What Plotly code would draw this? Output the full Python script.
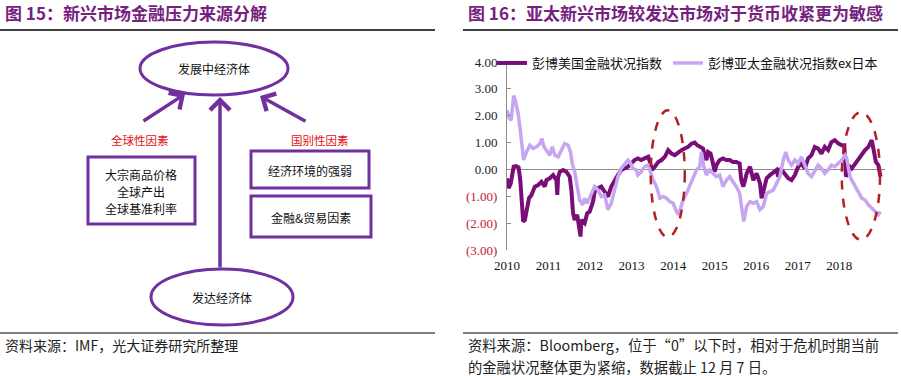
import plotly.graph_objects as go

W, H = 901, 376

# ---------------- data (right chart) ----------------
us_x = [2010.00, 2010.04, 2010.09, 2010.13, 2010.16, 2010.22, 2010.28, 2010.32, 2010.35, 2010.39,
        2010.43, 2010.47, 2010.53, 2010.59, 2010.67, 2010.75, 2010.83, 2010.91, 2010.95, 2011.03,
        2011.11, 2011.19, 2011.21, 2011.23, 2011.27, 2011.35, 2011.43, 2011.51, 2011.55, 2011.59,
        2011.63, 2011.69, 2011.75, 2011.77, 2011.79, 2011.87, 2011.93, 2011.99, 2012.07, 2012.11,
        2012.19, 2012.27, 2012.35, 2012.43, 2012.51, 2012.59, 2012.67, 2012.75, 2012.83, 2012.91,
        2012.99, 2013.07, 2013.15, 2013.23, 2013.31, 2013.40, 2013.44, 2013.49, 2013.56, 2013.64,
        2013.72, 2013.80, 2013.88, 2013.96, 2014.04, 2014.12, 2014.20, 2014.28, 2014.36, 2014.44,
        2014.52, 2014.58, 2014.64, 2014.72, 2014.76, 2014.80, 2014.84, 2014.90, 2014.96, 2015.00,
        2015.04, 2015.12, 2015.20, 2015.28, 2015.36, 2015.44, 2015.52, 2015.60, 2015.64, 2015.69,
        2015.73, 2015.77, 2015.85, 2015.89, 2015.93, 2016.01, 2016.09, 2016.13, 2016.17, 2016.25,
        2016.33, 2016.41, 2016.49, 2016.53, 2016.57, 2016.65, 2016.73, 2016.77, 2016.85, 2016.93,
        2017.01, 2017.09, 2017.17, 2017.25, 2017.33, 2017.41, 2017.49, 2017.57, 2017.65, 2017.73,
        2017.81, 2017.89, 2017.98, 2018.06, 2018.12, 2018.16, 2018.22, 2018.26, 2018.30, 2018.38,
        2018.46, 2018.54, 2018.62, 2018.70, 2018.78, 2018.82, 2018.88, 2018.94, 2018.99]
us_fci = [-0.33, -0.70, -0.52, -0.15, 0.10, 0.12, 0.07, -0.40, -1.38, -1.94,
          -1.88, -1.50, -1.07, -0.95, -0.64, -0.58, -0.46, -0.64, -0.40, -0.33,
          -0.21, -0.40, -0.95, -0.30, -0.09, -0.02, -0.09, -0.27, -0.77, -1.63,
          -1.88, -1.69, -2.31, -2.50, -1.88, -2.00, -1.63, -1.57, -1.20, -0.83,
          -0.70, -0.64, -0.83, -1.01, -0.64, -0.40, -0.21, -0.02, 0.04, 0.10,
          0.22, 0.35, 0.41, 0.35, 0.41, 0.47, 0.28, -0.02, 0.10, 0.28,
          0.35, 0.47, 0.72, 0.59, 0.53, 0.65, 0.72, 0.78, 0.84, 0.96,
          1.00, 0.90, 0.84, 0.78, 0.53, 0.35, 0.65, 0.59, 0.22, -0.09,
          0.16, 0.35, 0.41, 0.35, 0.35, 0.28, 0.28, 0.22, -0.40, -0.64,
          -0.40, -0.15, 0.10, -0.15, -0.40, -0.15, -0.52, -1.07, -0.77, -0.33,
          -0.21, -0.09, -0.02, -0.27, 0.04, -0.09, -0.25, -0.33, -0.40, -0.21,
          0.10, 0.22, 0.04, 0.41, 0.53, 0.84, 0.78, 0.59, 0.84, 0.72,
          1.02, 1.09, 0.96, 0.90, 0.90, -0.27, -0.02, 0.10, 0.04, 0.22,
          0.35, 0.53, 0.72, 0.84, 1.09, 0.78, 0.28, 0.16, -0.27]

asia_x = [2010.00, 2010.06, 2010.10, 2010.16, 2010.20, 2010.27, 2010.32, 2010.37, 2010.40, 2010.47,
          2010.55, 2010.63, 2010.71, 2010.79, 2010.84, 2010.89, 2010.95, 2011.03, 2011.09, 2011.15,
          2011.23, 2011.31, 2011.39, 2011.47, 2011.53, 2011.57, 2011.63, 2011.69, 2011.75, 2011.82,
          2011.87, 2011.93, 2011.99, 2012.07, 2012.11, 2012.19, 2012.27, 2012.35, 2012.43, 2012.51,
          2012.59, 2012.67, 2012.75, 2012.83, 2012.91, 2012.98, 2013.03, 2013.11, 2013.15, 2013.23,
          2013.31, 2013.40, 2013.46, 2013.52, 2013.60, 2013.68, 2013.76, 2013.84, 2013.92, 2014.00,
          2014.08, 2014.12, 2014.18, 2014.24, 2014.32, 2014.40, 2014.48, 2014.56, 2014.64, 2014.68,
          2014.74, 2014.80, 2014.88, 2014.96, 2015.04, 2015.12, 2015.20, 2015.28, 2015.36, 2015.44,
          2015.52, 2015.60, 2015.67, 2015.70, 2015.77, 2015.85, 2015.93, 2016.01, 2016.09, 2016.17,
          2016.25, 2016.33, 2016.41, 2016.49, 2016.57, 2016.65, 2016.71, 2016.77, 2016.85, 2016.93,
          2017.01, 2017.09, 2017.17, 2017.25, 2017.33, 2017.41, 2017.49, 2017.57, 2017.65, 2017.73,
          2017.81, 2017.89, 2017.98, 2018.06, 2018.14, 2018.18, 2018.22, 2018.26, 2018.30, 2018.38,
          2018.46, 2018.54, 2018.62, 2018.70, 2018.78, 2018.86, 2018.94, 2018.99]
asia_fci = [2.20, 1.90, 1.83, 2.75, 2.57, 2.07, 1.46, 0.72, 0.35, 0.65,
            0.90, 0.78, 0.84, 0.96, 1.15, 0.84, 0.72, 0.53, 0.84, 0.53,
            0.47, 0.72, 0.96, 0.90, 0.65, 0.22, -0.09, -0.64, -1.14, -1.32,
            -1.07, -1.26, -1.07, -0.77, -0.64, -0.77, -1.01, -0.95, -1.50, -1.26,
            -0.77, -0.27, 0.04, 0.22, 0.35, 0.22, 0.04, -0.02, -0.21, -0.09,
            0.10, 0.16, -0.15, -0.40, -0.64, -1.07, -1.01, -1.07, -1.20, -1.26,
            -1.57, -1.69, -1.44, -1.14, -0.90, -0.60, -0.27, -0.02, 0.10, 0.65,
            0.10, -0.21, -0.02, -0.15, -0.27, -0.21, -0.64, -0.40, -0.27, -0.46,
            -0.64, -0.89, -1.50, -1.94, -1.38, -1.20, -1.26, -1.20, -1.50, -1.38,
            -0.89, -0.83, -0.77, -0.52, -0.27, 0.35, 0.65, 0.35, 0.16, 0.35,
            0.22, 0.47, 0.16, -0.15, -0.27, -0.02, 0.16, 0.04, -0.15, -0.02,
            0.16, 0.10, 0.22, 0.35, 0.53, 0.41, 0.04, -0.27, -0.40, -0.64,
            -0.89, -1.07, -1.14, -1.32, -1.44, -1.57, -1.69, -1.57]

series_names = ["彭博美国金融状况指数", "彭博亚太金融状况指数ex日本"]
year_ticks = [2010, 2011, 2012, 2013, 2014, 2015, 2016, 2017, 2018]
y_ticks = [-3, -2, -1, 0, 1, 2, 3, 4]
y_tick_labels = ["(3.00)", "(2.00)", "(1.00)", "0.00", "1.00", "2.00", "3.00", "4.00"]

# highlighted periods (dashed ellipses), in data units
highlight_x = [(2013.46, 2014.28), (2018.06, 2018.98)]
highlight_y = [(-2.52, 2.20), (-2.62, 2.13)]

# ---------------- text ----------------
title_left = "图 15：新兴市场金融压力来源分解"
title_right = "图 16：亚太新兴市场较发达市场对于货币收紧更为敏感"
source_left = "资料来源：IMF，光大证券研究所整理"
source_right_1 = "资料来源：Bloomberg，位于“0”以下时，相对于危机时期当前"
source_right_2 = "的金融状况整体更为紧缩，数据截止 12 月 7 日。"
node_top = "发展中经济体"
node_bottom = "发达经济体"
label_global = "全球性因素"
label_country = "国别性因素"
box_global = ["大宗商品价格", "全球产出", "全球基准利率"]
box_country_1 = "经济环境的强弱"
box_country_2 = "金融&贸易因素"

# ---------------- styling ----------------
CJK = "Noto Sans CJK SC"
NUM = "Liberation Serif"
TITLE_C = "#74227E"
DIAG_C = "#7030A0"
RED_TXT = "#E01010"
US_C = "#7A0E78"
ASIA_C = "#C6A6F0"
ELL_C = "#B41E24"
NEG_C = "#C0203A"


def px(x):
    return x / W


def py(y):
    return 1 - y / H


fig = go.Figure()
fig.add_trace(go.Scatter(x=us_x, y=us_fci, mode="lines", name=series_names[0],
                         line=dict(color=US_C, width=4), legend="legend"))
fig.add_trace(go.Scatter(x=asia_x, y=asia_fci, mode="lines", name=series_names[1],
                         line=dict(color=ASIA_C, width=3.5), legend="legend2"))

ticktext = [f"<span style='color:{NEG_C}'>{t}</span>" if v < 0 else t
            for v, t in zip(y_ticks, y_tick_labels)]

leg_common = dict(orientation="h", xanchor="left", yanchor="middle",
                  font=dict(family=CJK, size=13, color="#111"), bgcolor="rgba(0,0,0,0)",
                  itemwidth=30)

fig.update_layout(
    width=W, height=H,
    margin=dict(l=0, r=0, t=0, b=0, autoexpand=False),
    paper_bgcolor="white", plot_bgcolor="white",
    showlegend=True,
    legend=dict(x=px(492), y=py(63), **leg_common),
    legend2=dict(x=px(668), y=py(63), **leg_common),
    xaxis=dict(domain=[px(507), px(885)], range=[2010, 2019.1],
               tickvals=year_ticks, ticktext=[str(y) for y in year_ticks],
               showgrid=False, zeroline=False, showline=False, ticks="",
               ticklabelstandoff=6, automargin=False,
               tickfont=dict(family=NUM, size=13, color="#111")),
    yaxis=dict(domain=[py(250), py(62)], range=[-3, 4],
               tickvals=y_ticks, ticktext=ticktext,
               showgrid=False, zeroline=True, zerolinecolor="#8c8c8c", zerolinewidth=1,
               showline=True, linecolor="#8c8c8c", linewidth=1,
               ticks="inside", ticklen=4, tickcolor="#8c8c8c",
               ticklabelstandoff=6, automargin=False,
               tickfont=dict(family=NUM, size=13, color="#222")),
)

shapes = []
# title / footer rules
for x0, x1 in [(0, 435), (463, 898)]:
    shapes.append(dict(type="line", xref="paper", yref="paper", x0=px(x0), x1=px(x1),
                       y0=py(30), y1=py(30), line=dict(color="black", width=1.5)))
    shapes.append(dict(type="line", xref="paper", yref="paper", x0=px(x0), x1=px(x1),
                       y0=py(333), y1=py(333), line=dict(color="black", width=1.2)))

# dashed ellipses
for (xa, xb), (ya, yb) in zip(highlight_x, highlight_y):
    shapes.append(dict(type="circle", xref="x", yref="y", x0=xa, x1=xb, y0=ya, y1=yb,
                       line=dict(color=ELL_C, width=2.5, dash="dash"), layer="above"))

# diagram: ellipses and boxes
diag_ellipses = [(140, 42, 288, 95), (151, 269, 293, 325)]
for x0, y0, x1, y1 in diag_ellipses:
    shapes.append(dict(type="circle", xref="paper", yref="paper", x0=px(x0), x1=px(x1),
                       y0=py(y1), y1=py(y0), line=dict(color=DIAG_C, width=3),
                       fillcolor="white"))
diag_boxes = [(88, 157, 195, 224), (251, 151, 369, 188), (251, 196, 371, 237)]
for x0, y0, x1, y1 in diag_boxes:
    shapes.append(dict(type="rect", xref="paper", yref="paper", x0=px(x0), x1=px(x1),
                       y0=py(y1), y1=py(y0), line=dict(color=DIAG_C, width=3),
                       fillcolor="white"))
fig.update_layout(shapes=shapes)

ann = []


def text(x, y, s, size, color="#111", family=CJK, xanchor="center", bold=False):
    if bold:
        s = f"<b>{s}</b>"
    ann.append(dict(x=px(x), y=py(y), xref="paper", yref="paper", text=s, showarrow=False,
                    xanchor=xanchor, yanchor="middle",
                    font=dict(family=family, size=size, color=color)))


text(3, 13, title_left, 17, TITLE_C, xanchor="left", bold=True)
text(466, 13, title_right, 17, TITLE_C, xanchor="left", bold=True)
text(3, 345, source_left, 14, "#222", xanchor="left")
text(466, 344, source_right_1, 14.3, "#222", xanchor="left")
text(466, 366, source_right_2, 14.3, "#222", xanchor="left")

text(214, 68, node_top, 12)
text(222, 297, node_bottom, 12)
text(140, 140, label_global, 11.5, RED_TXT)
text(320, 140, label_country, 11.5, RED_TXT)
text(141, 174, box_global[0], 12)
text(141, 191, box_global[1], 12)
text(141, 208, box_global[2], 12)
text(310, 170, box_country_1, 12)
text(311, 217, box_country_2, 12)

# arrows (head, tail)
arrows = [((185, 94), (142, 122)), ((260, 96), (307, 122)), ((220, 97), (220, 269))]
for (hx, hy), (tx, ty) in arrows:
    ann.append(dict(x=px(hx), y=py(hy), xref="paper", yref="paper",
                    ax=tx - hx, ay=ty - hy, axref="pixel", ayref="pixel",
                    showarrow=True, arrowhead=4, arrowsize=1.1, arrowwidth=3.5,
                    arrowcolor=DIAG_C, text=""))

fig.update_layout(annotations=ann)
fig.write_html("out.html", config={"displayModeBar": False},
               post_script="document.body.style.margin='0';document.body.style.padding='0';")
